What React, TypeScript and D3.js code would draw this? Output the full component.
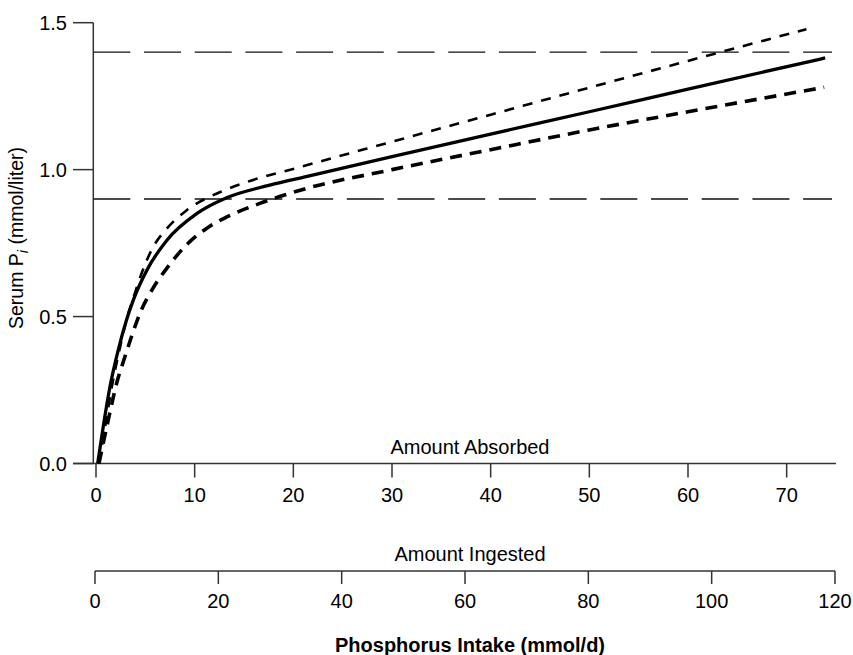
import { useRef, useEffect } from "react";
import * as d3 from "d3";

// Serum phosphate vs absorbed phosphorus
const solidX = [0.17, 0.74, 1.42, 2.26, 3.1, 3.78, 5.16, 7.19, 10.2, 13.3, 17.6, 21.4, 30, 40, 50, 60, 73.9];
const solidY = [0, 0.127, 0.262, 0.387, 0.489, 0.556, 0.658, 0.76, 0.85, 0.905, 0.947, 0.977, 1.044, 1.121, 1.197, 1.274, 1.38];

const upperX = [0.3, 0.9, 1.6, 2.4, 3.1, 3.8, 4.5, 5.8, 7.2, 9.2, 12.6, 15.3, 20.7, 30, 40, 50, 60, 72];
const upperY = [0, 0.12, 0.26, 0.39, 0.49, 0.565, 0.636, 0.737, 0.8, 0.862, 0.924, 0.958, 1.009, 1.095, 1.187, 1.279, 1.37, 1.478];

const lowerX = [0.3, 1.25, 2.1, 2.94, 3.6, 4.45, 5.84, 7.19, 9.2, 11.2, 13.26, 16.6, 20.7, 30, 40, 50, 60, 73.8];
const lowerY = [0, 0.149, 0.274, 0.364, 0.432, 0.511, 0.6, 0.665, 0.745, 0.8, 0.839, 0.885, 0.93, 1.0, 1.068, 1.135, 1.197, 1.28];

// Normal range limits
const refLines = [1.4, 0.9];

const yTicks = [0, 0.5, 1.0, 1.5];
const absorbedTicks = [0, 10, 20, 30, 40, 50, 60, 70];
const ingestedTicks = [0, 20, 40, 60, 80, 100, 120];

const FONT = "'Liberation Sans', Arial, Helvetica, sans-serif";
const AXIS = "#333";

export default function App() {
  const svgRef = useRef<SVGSVGElement>(null);

  useEffect(() => {
    if (!svgRef.current) return;
    const svg = d3.select(svgRef.current);
    svg.selectAll("*").remove();

    const x = d3.scaleLinear().domain([0, 75]).range([96, 836]);
    const xIng = d3.scaleLinear().domain([0, 120]).range([95, 835]);
    const y = d3.scaleLinear().domain([0, 1.5]).range([463.5, 22.7]);

    const fs = "20px";

    // reference dashed lines
    refLines.forEach((v) => {
      svg.append("line")
        .attr("x1", 93.3).attr("x2", 832).attr("y1", y(v)).attr("y2", y(v))
        .attr("stroke", "#111").attr("stroke-width", 1.3)
        .attr("stroke-dasharray", "37,13.7");
    });

    // y axis
    svg.append("line").attr("x1", 93.3).attr("x2", 93.3).attr("y1", y(1.5)).attr("y2", y(0))
      .attr("stroke", AXIS).attr("stroke-width", 1.5);
    yTicks.forEach((t) => {
      svg.append("line").attr("x1", 73).attr("x2", 93.3).attr("y1", y(t)).attr("y2", y(t))
        .attr("stroke", AXIS).attr("stroke-width", 1.5);
      svg.append("text").attr("x", 67).attr("y", y(t)).attr("dy", "0.36em")
        .attr("text-anchor", "end").style("font-family", FONT).style("font-size", fs)
        .text(d3.format(".1f")(t));
    });

    // y label
    const yl = svg.append("text")
      .attr("transform", "translate(23,238) rotate(-90)")
      .attr("text-anchor", "middle")
      .style("font-family", FONT).style("font-size", "19.5px");
    yl.append("tspan").text("Serum P");
    yl.append("tspan").attr("font-style", "italic").attr("font-size", "14.5px").attr("dy", 5).text("i");
    yl.append("tspan").attr("dy", -5).text(" (mmol/liter)");

    // absorbed axis
    const axisY = y(0);
    svg.append("line").attr("x1", 73).attr("x2", x(75)).attr("y1", axisY).attr("y2", axisY)
      .attr("stroke", AXIS).attr("stroke-width", 1.5);
    absorbedTicks.forEach((t) => {
      svg.append("line").attr("x1", x(t)).attr("x2", x(t)).attr("y1", axisY).attr("y2", axisY + 14)
        .attr("stroke", AXIS).attr("stroke-width", 1.5);
      svg.append("text").attr("x", x(t)).attr("y", 501.7).attr("text-anchor", "middle")
        .style("font-family", FONT).style("font-size", fs).text(t);
    });
    svg.append("text").attr("x", 470).attr("y", 454).attr("text-anchor", "middle")
      .style("font-family", FONT).style("font-size", fs).text("Amount Absorbed");

    // ingested axis
    const ingY = 571;
    svg.append("line").attr("x1", xIng(0)).attr("x2", xIng(120)).attr("y1", ingY).attr("y2", ingY)
      .attr("stroke", AXIS).attr("stroke-width", 1.5);
    ingestedTicks.forEach((t) => {
      svg.append("line").attr("x1", xIng(t)).attr("x2", xIng(t)).attr("y1", ingY).attr("y2", ingY + 13)
        .attr("stroke", AXIS).attr("stroke-width", 1.5);
      svg.append("text").attr("x", xIng(t)).attr("y", 608).attr("text-anchor", "middle")
        .style("font-family", FONT).style("font-size", fs).text(t);
    });
    svg.append("text").attr("x", 470).attr("y", 561).attr("text-anchor", "middle")
      .style("font-family", FONT).style("font-size", fs).text("Amount Ingested");

    svg.append("text").attr("x", 470).attr("y", 651.7).attr("text-anchor", "middle")
      .style("font-family", FONT).style("font-size", "20px").style("font-weight", "700")
      .text("Phosphorus Intake (mmol/d)");

    // curves
    const line = d3.line<[number, number]>()
      .x((d) => x(d[0])).y((d) => y(d[1]))
      .curve(d3.curveMonotoneX);

    const series = [
      { xs: upperX, ys: upperY, width: 2.6, dash: "10,9" },
      { xs: lowerX, ys: lowerY, width: 3.6, dash: "12,8" },
      { xs: solidX, ys: solidY, width: 3.3, dash: null },
    ];
    series.forEach((s) => {
      const pts = s.xs.map((v, i) => [v, s.ys[i]] as [number, number]);
      svg.append("path").attr("d", line(pts) ?? "")
        .attr("fill", "none").attr("stroke", "#000")
        .attr("stroke-width", s.width)
        .attr("stroke-dasharray", s.dash ?? null);
    });

    return () => {
      svg.selectAll("*").remove();
    };
  }, []);

  return (
    <svg
      ref={svgRef}
      width={853}
      height={655}
      style={{ position: "absolute", left: 0, top: 0, background: "#fff" }}
    />
  );
}
